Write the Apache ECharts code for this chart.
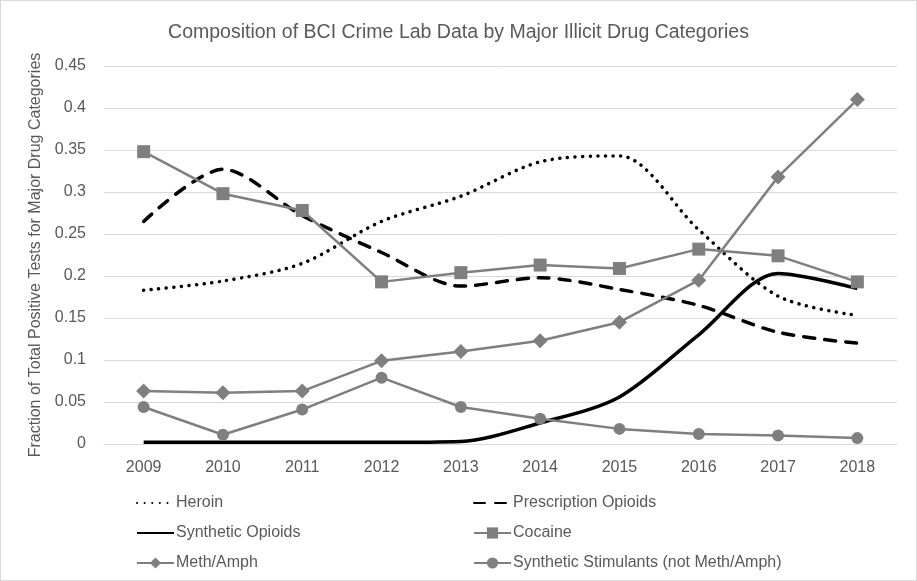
<!DOCTYPE html>
<html>
<head>
<meta charset="utf-8">
<script src="https://cdn.jsdelivr.net/npm/echarts@6/dist/echarts.min.js"></script>
<style>
  html, body { margin: 0; padding: 0; background: #fff; }
  #chart { width: 917px; height: 581px; box-sizing: border-box; border: 1px solid #d9d9d9; }
</style>
</head>
<body>
<div id="chart"></div>
<script>
// data
const years = ["2009", "2010", "2011", "2012", "2013", "2014", "2015", "2016", "2017", "2018"];
const heroin = [0.183, 0.194, 0.215, 0.265, 0.295, 0.336, 0.343, 0.255, 0.176, 0.153];
const prescriptionOpioids = [0.265, 0.327, 0.272, 0.228, 0.188, 0.198, 0.184, 0.165, 0.133, 0.120];
const syntheticOpioids = [0.002, 0.002, 0.002, 0.002, 0.003, 0.025, 0.056, 0.130, 0.203, 0.185];
const cocaine = [0.348, 0.298, 0.278, 0.193, 0.204, 0.213, 0.209, 0.232, 0.224, 0.193];
const methAmph = [0.063, 0.061, 0.063, 0.099, 0.110, 0.123, 0.145, 0.195, 0.318, 0.410];
const syntheticStimulants = [0.044, 0.011, 0.041, 0.079, 0.044, 0.030, 0.018, 0.012, 0.010, 0.007];

const FONT = "'Liberation Sans', Arial, sans-serif";
const GREY = "#7f7f7f";
const TEXT = "#595959";
const FS = 16;

let myChart = echarts.init(document.getElementById("chart"));

// grey series with markers share the same look
function markerSeries(name, data, symbol, size) {
  return {
    name: name,
    type: "line",
    data: data,
    symbol: symbol,
    symbolSize: size,
    itemStyle: { color: GREY },
    lineStyle: { color: GREY, width: 2.5 },
    emphasis: { disabled: true },
  };
}

// legend entries for the plain black lines: hide the marker, keep the line
function lineOnly(name) {
  return { name: name, itemStyle: { opacity: 0 } };
}

const legendCommon = {
  orient: "vertical",
  top: 494,
  height: 86,
  padding: 0,
  itemWidth: 37,
  itemHeight: 14,
  itemGap: 14,
  textStyle: { color: TEXT, fontFamily: FONT, fontSize: FS, lineHeight: 16, padding: [0, 0, 0, -3] },
};

let option = {
  animation: false,
  title: {
    text: "Composition of BCI Crime Lab Data by Major Illicit Drug Categories",
    left: "center",
    top: 17,
    textStyle: { color: TEXT, fontFamily: FONT, fontSize: 19.5, fontWeight: "normal" },
  },
  grid: { left: 103, right: 19, top: 65, height: 378 },
  legend: [
    Object.assign({}, legendCommon, {
      left: 135,
      data: [lineOnly("Heroin"), lineOnly("Synthetic Opioids"), "Meth/Amph"],
    }),
    Object.assign({}, legendCommon, {
      left: 472,
      data: [lineOnly("Prescription Opioids"), "Cocaine", "Synthetic Stimulants (not Meth/Amph)"],
    }),
  ],
  xAxis: {
    type: "category",
    data: years,
    boundaryGap: true,
    axisLine: { lineStyle: { color: "#d9d9d9", width: 1 } },
    axisTick: { show: false },
    axisLabel: { color: TEXT, fontFamily: FONT, fontSize: FS, margin: 16 },
  },
  yAxis: {
    type: "value",
    min: 0,
    max: 0.45,
    interval: 0.05,
    name: "Fraction of Total Positive Tests for Major Drug Categories",
    nameLocation: "middle",
    nameGap: 52,
    nameTextStyle: { color: TEXT, fontFamily: FONT, fontSize: FS },
    axisLine: { show: false },
    axisTick: { show: false },
    splitLine: { lineStyle: { color: "#d9d9d9", width: 1 } },
    axisLabel: {
      color: TEXT,
      fontFamily: FONT,
      fontSize: FS,
      margin: 18,
      formatter: (v) => String(+v.toFixed(2)),
    },
  },
  series: [
    {
      name: "Heroin",
      type: "line",
      data: heroin,
      smooth: 0.3,
      symbol: "none",
      itemStyle: { color: "#000" },
      lineStyle: { color: "#000", width: 3.5, type: [0.1, 7.5], cap: "round" },
      emphasis: { disabled: true },
    },
    {
      name: "Prescription Opioids",
      type: "line",
      data: prescriptionOpioids,
      smooth: 0.3,
      symbol: "none",
      itemStyle: { color: "#000" },
      lineStyle: { color: "#000", width: 3.5, type: [11, 10], cap: "round" },
      emphasis: { disabled: true },
    },
    {
      name: "Synthetic Opioids",
      type: "line",
      data: syntheticOpioids,
      smooth: 0.3,
      symbol: "none",
      itemStyle: { color: "#000" },
      lineStyle: { color: "#000", width: 3.5 },
      emphasis: { disabled: true },
    },
    markerSeries("Cocaine", cocaine, "rect", 13),
    markerSeries("Meth/Amph", methAmph, "diamond", 15),
    markerSeries("Synthetic Stimulants (not Meth/Amph)", syntheticStimulants, "circle", 12),
  ],
};

myChart.setOption(option);
</script>
</body>
</html>
